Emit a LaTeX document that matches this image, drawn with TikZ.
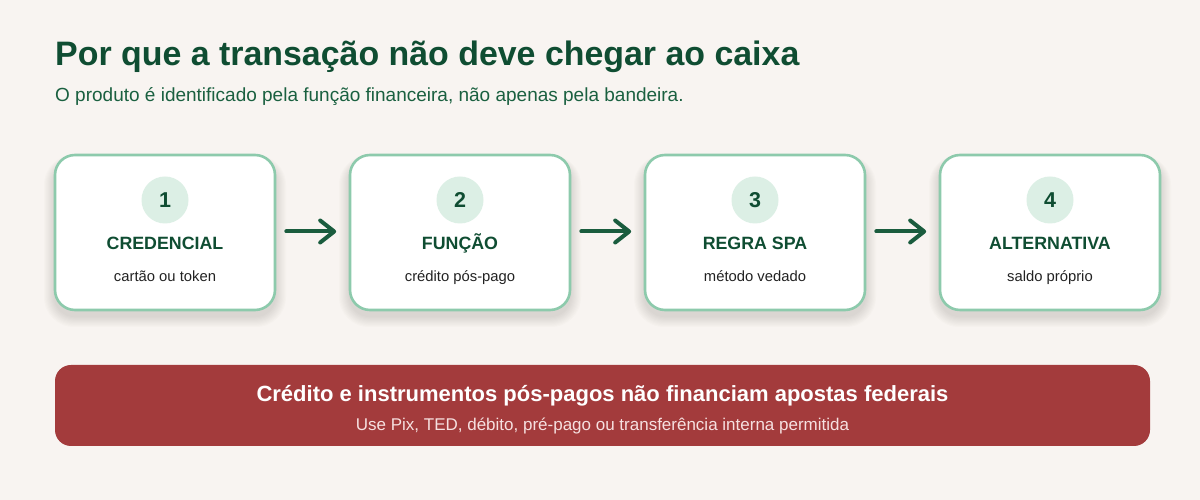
\documentclass[tikz,border=0pt]{standalone}
\usepackage{fontspec}
\setmainfont{Liberation Sans}
\usetikzlibrary{arrows.meta}
\definecolor{bg}{HTML}{F8F4F1}
\definecolor{dgreen}{HTML}{0F4D32}
\definecolor{sgreen}{HTML}{1A6040}
\definecolor{cardborder}{HTML}{8DCAAC}
\definecolor{circfill}{HTML}{DCEFE5}
\definecolor{arrowc}{HTML}{1A5C3E}
\definecolor{banner}{HTML}{A33B3C}
\definecolor{bannertxt}{HTML}{F6E0E0}
\definecolor{subtxt}{HTML}{222222}
\definecolor{shadowc}{HTML}{6B5E55}
\tikzset{
  x=1pt,y=1pt,
  card/.style={draw=cardborder,line width=2.6pt,fill=white,rounded corners=20pt,
    minimum width=220pt,minimum height=155pt,inner sep=0pt},
  numcirc/.style={circle,fill=circfill,minimum size=47pt,inner sep=0pt,
    font=\fontsize{21.5}{26}\selectfont\bfseries,text=dgreen},
  cardtitle/.style={font=\fontsize{17.8}{21}\selectfont\bfseries,text=dgreen,inner sep=0pt},
  cardsub/.style={font=\fontsize{14.8}{18}\selectfont,text=subtxt,inner sep=0pt},
  flow/.style={draw=arrowc,line width=4pt,line cap=round,
    -{Straight Barb[length=14pt,width=22pt,line width=4pt,round]}},
}
\begin{document}
\begin{tikzpicture}
\fill[bg] (0,0) rectangle (1200,500);
\useasboundingbox (0,0) rectangle (1200,500);
\node[anchor=base west,inner sep=0pt,font=\fontsize{33.9}{40}\selectfont\bfseries,text=dgreen] (title) at (55,434) {Por que a transação não deve chegar ao caixa};
\node[anchor=base west,inner sep=0pt,font=\fontsize{19}{23}\selectfont,text=sgreen] (subtitle) at (55,398) {O produto é identificado pela função financeira, não apenas pela bandeira.};
\foreach \i/\cx/\t/\s in {1/165/CREDENCIAL/cartão ou token,2/460/FUNÇÃO/crédito pós-pago,3/755/REGRA SPA/método vedado,4/1050/ALTERNATIVA/saldo próprio}{
  \foreach \k in {1,...,10}{
    \fill[shadowc,opacity=0.018,rounded corners=20pt+\k pt]
      (\cx-110-\k*1.1,190-6-\k*1.1) rectangle (\cx+110+\k*1.1,345-6+\k*0.6);
  }
  \node[card] (card\i) at (\cx,267.5) {};
  \node[numcirc] (num\i) at (\cx,300) {\i};
  \node[cardtitle,anchor=base] (ct\i) at (\cx,250) {\t};
  \node[cardsub,anchor=base] (cs\i) at (\cx,218) {\s};
}
\foreach \a/\b in {1/2,2/3,3/4}{
  \draw[flow] ([xshift=10pt,yshift=1pt]card\a.east) -- ([xshift=-12.5pt,yshift=1pt]card\b.west);
}
\node[fill=banner,rounded corners=16pt,minimum width=1095pt,minimum height=81pt,inner sep=0pt] (bannerbox) at (602.5,94.5) {};
\node[anchor=base,inner sep=0pt,font=\fontsize{22}{26}\selectfont\bfseries,text=white] (bt) at (602.5,98) {Crédito e instrumentos pós-pagos não financiam apostas federais};
\node[anchor=base,inner sep=0pt,font=\fontsize{17}{20}\selectfont,text=bannertxt] (bs) at (602.5,69.5) {Use Pix, TED, débito, pré-pago ou transferência interna permitida};
\end{tikzpicture}
\end{document}
